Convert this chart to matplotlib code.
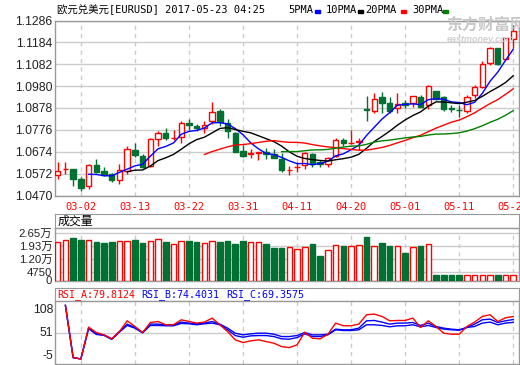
import matplotlib
matplotlib.use("Agg")
import matplotlib.pyplot as plt
from matplotlib.patches import Rectangle
import numpy as np
import pandas as pd

W, H = 520, 365

# daily candles
opens = [1.0564, 1.0592, 1.0592, 1.0546, 1.0513, 1.0611, 1.0584, 1.0570, 1.0544, 1.0583,
         1.0682, 1.0654, 1.0608, 1.0732, 1.0761, 1.0736, 1.0741, 1.0807, 1.0795, 1.0786,
         1.0816, 1.0865, 1.0807, 1.0760, 1.0676, 1.0662, 1.0669, 1.0671, 1.0662, 1.0642,
         1.0588, 1.0601, 1.0611, 1.0664, 1.0628, 1.0617, 1.0654, 1.0729, 1.0713, 1.0719,
         1.0874, 1.0865, 1.0929, 1.0900, 1.0877, 1.0900, 1.0900, 1.0928, 1.0892, 1.0957,
         1.0928, 1.0878, 1.0871, 1.0865, 1.0939, 1.0977, 1.1086, 1.1159, 1.1105, 1.1198]
highs = [1.0628, 1.0628, 1.0594, 1.0558, 1.0615, 1.0640, 1.0604, 1.0575, 1.0617, 1.0701,
         1.0715, 1.0664, 1.0737, 1.0771, 1.0786, 1.0774, 1.0817, 1.0825, 1.0803, 1.0817,
         1.0907, 1.0872, 1.0825, 1.0768, 1.0705, 1.0685, 1.0674, 1.0693, 1.0687, 1.0670,
         1.0609, 1.0628, 1.0674, 1.0670, 1.0636, 1.0651, 1.0740, 1.0740, 1.0775, 1.0737,
         1.0934, 1.0949, 1.0954, 1.0931, 1.0947, 1.0915, 1.0934, 1.0939, 1.0985, 1.0957,
         1.0934, 1.0892, 1.0892, 1.0939, 1.0985, 1.1097, 1.1164, 1.1159, 1.1203, 1.1265]
lows = [1.0548, 1.0572, 1.0516, 1.0492, 1.0502, 1.0575, 1.0560, 1.0533, 1.0525, 1.0572,
        1.0651, 1.0600, 1.0604, 1.0702, 1.0729, 1.0729, 1.0716, 1.0775, 1.0771, 1.0760,
        1.0803, 1.0794, 1.0740, 1.0671, 1.0651, 1.0643, 1.0636, 1.0639, 1.0643, 1.0581,
        1.0566, 1.0581, 1.0592, 1.0604, 1.0604, 1.0604, 1.0648, 1.0702, 1.0709, 1.0682,
        1.0819, 1.0853, 1.0856, 1.0853, 1.0856, 1.0880, 1.0881, 1.0881, 1.0872, 1.0915,
        1.0865, 1.0861, 1.0837, 1.0856, 1.0923, 1.0973, 1.1079, 1.1079, 1.1102, 1.1156]
closes = [1.0586, 1.0595, 1.0548, 1.0506, 1.0611, 1.0580, 1.0567, 1.0544, 1.0588, 1.0685,
          1.0657, 1.0604, 1.0733, 1.0760, 1.0740, 1.0738, 1.0807, 1.0799, 1.0783, 1.0797,
          1.0859, 1.0811, 1.0769, 1.0674, 1.0654, 1.0670, 1.0671, 1.0662, 1.0646, 1.0589,
          1.0590, 1.0605, 1.0667, 1.0617, 1.0617, 1.0645, 1.0729, 1.0713, 1.0714, 1.0722,
          1.0871, 1.0921, 1.0903, 1.0865, 1.0895, 1.0890, 1.0934, 1.0884, 1.0981, 1.0920,
          1.0872, 1.0875, 1.0869, 1.0931, 1.0975, 1.1082, 1.1156, 1.1083, 1.1203, 1.1237]
volumes = [21100, 22400, 23700, 22400, 22400, 21290, 20730, 21290, 21850, 21850,
           22590, 20730, 21850, 22970, 21290, 20170, 21850, 22030, 21290, 20730,
           21850, 21290, 21850, 20170, 22030, 21290, 21290, 20170, 18110, 18110,
           18670, 17370, 18480, 20170, 13440, 16810, 19610, 19050, 19240, 19610,
           24270, 19240, 20910, 19240, 19050, 15310, 18480, 19240, 20170, 2800,
           2800, 2800, 2800, 2800, 2800, 2800, 2800, 2800, 2800, 2800]
nan = np.nan
rsi_a = [nan, 99.6, 6.4, 4.0, 60.8, 51.2, 47.0, 39.9, 53.0, 72.1,
         62.0, 51.2, 69.1, 70.9, 65.0, 65.0, 73.9, 70.9, 68.0, 69.8,
         76.9, 65.0, 53.0, 38.1, 33.3, 36.3, 38.1, 35.1, 32.1, 26.1,
         24.3, 29.1, 51.8, 41.0, 39.9, 48.2, 68.0, 63.2, 63.2, 66.2,
         82.9, 84.1, 79.9, 72.1, 72.7, 72.7, 76.9, 60.2, 72.1, 62.0,
         50.0, 48.2, 48.2, 62.0, 69.8, 79.9, 82.9, 70.9, 77.5, 79.8124]
rsi_b = [nan, 99.6, 6.4, 4.0, 59.0, 48.8, 47.0, 39.9, 53.0, 66.2,
         60.2, 51.2, 66.2, 66.2, 65.0, 65.0, 69.8, 68.0, 66.8, 68.0,
         70.9, 66.2, 59.0, 50.0, 47.0, 48.8, 50.0, 50.0, 48.2, 44.0,
         44.0, 45.8, 51.2, 47.0, 47.0, 48.2, 57.2, 56.0, 56.0, 59.0,
         72.1, 72.7, 69.8, 66.2, 68.0, 68.0, 69.1, 63.8, 68.0, 62.0,
         59.0, 57.2, 56.0, 60.2, 66.2, 73.9, 75.1, 69.1, 72.1, 74.4031]
rsi_c = [nan, 99.6, 6.4, 4.0, 58.0, 47.8, 46.0, 38.9, 52.0, 63.8,
         59.0, 50.5, 63.8, 63.8, 63.2, 63.2, 67.4, 66.8, 65.0, 66.8,
         68.0, 65.0, 56.0, 45.8, 42.8, 45.2, 45.8, 45.8, 44.0, 39.9,
         39.3, 42.2, 48.8, 44.0, 44.0, 47.0, 56.0, 54.8, 54.8, 56.0,
         65.0, 65.0, 63.8, 61.4, 63.2, 63.2, 65.0, 61.4, 63.8, 60.2,
         57.2, 56.0, 55.4, 60.2, 62.0, 68.0, 69.8, 65.0, 68.0, 69.3575]

date_labels = ["03-02", "03-13", "03-22", "03-31", "04-11", "04-20", "05-01", "05-11", "05-22"]
date_pos = [3, 10, 17, 24, 31, 38, 45, 52, 59]
price_ticks = [1.0470, 1.0572, 1.0674, 1.0776, 1.0878, 1.0980, 1.1082, 1.1184, 1.1286]
vol_ticks = [0, 4750, 12000, 19300, 26500]
vol_tick_labels = ["0", "4750", "1.20万", "1.93万", "2.65万"]
rsi_ticks = [108, 51, -5]
ma_periods = [5, 10, 20, 30]
ma_colors = ["#0000ff", "#000000", "#ff0000", "#008000"]

UP, DOWN = "#ff0000", "#007033"
GRID, FRAME = "#cccccc", "#999999"
MONO = ["DejaVu Sans Mono", "Noto Sans CJK SC"]

plt.rcParams["font.family"] = ["Liberation Sans", "Noto Sans CJK SC"]


def fx(x):
    return x / W


def fy(y):
    return 1 - y / H


def add_axes(top, bottom, left=55, right=519):
    return fig.add_axes([fx(left), fy(bottom), fx(right) - fx(left), (bottom - top) / H])


def style(ax, size=8.8):
    for s in ax.spines.values():
        s.set_color(FRAME)
        s.set_linewidth(1)
    ax.tick_params(length=0, labelsize=size, colors="#222222", pad=2)
    ax.set_xlim(-0.35, 59.75)


o, h, l, c = map(np.asarray, (opens, highs, lows, closes))
x = np.arange(len(c))
up = c >= o
edge = np.where(up, UP, DOWN)
face = np.where(up, "white", DOWN)

fig = plt.figure(figsize=(W / 100, H / 100), dpi=100)

# price panel
ax = add_axes(20.5, 195.5)
style(ax)
ax.set_ylim(1.0470, 1.1286)
ax.set_yticks(price_ticks, [f"{t:.4f}" for t in price_ticks])
ax.set_xticks(date_pos, date_labels, color="red", fontsize=7.5, family=MONO)
ax.tick_params(axis="x", pad=5)
ax.grid(axis="y", color=GRID, lw=1)
ax.grid(axis="x", color=GRID, lw=1, ls=(0, (3, 3)))
ax.vlines(x, l, h, colors=edge, lw=1, zorder=2)
ax.bar(x, np.abs(c - o), bottom=np.minimum(o, c), width=0.7,
       color=face, edgecolor=edge, lw=1, zorder=3)
for n, col in zip(ma_periods, ma_colors):
    ax.plot(x, pd.Series(c).rolling(n).mean(), color=col, lw=1, zorder=4)

# watermark
fig.text(fx(446), fy(25), "东方财富网", fontsize=11.5, weight="bold", color="#c8c8c8",
         family="Noto Sans CJK SC", va="center")
fig.text(fx(447), fy(39), "eastmoney.com", fontsize=6.5, color="#cfcfcf", style="italic",
         weight="bold", va="center")

# volume panel
axh = add_axes(213.5, 228.3)
axh.set_xticks([])
axh.set_yticks([])
for s in axh.spines.values():
    s.set_color(FRAME)
axh.text(0.005, 0.45, "成交量", transform=axh.transAxes, fontsize=8.6,
         family="Noto Sans CJK SC", va="center", ha="left")

axv = add_axes(228.3, 280.5)
style(axv, size=8.2)
axv.set_ylim(0, 28940)
axv.set_yticks(vol_ticks, vol_tick_labels)
axv.set_xticks([])
for t in vol_ticks[1:]:
    axv.axhline(t, color=GRID, lw=1, zorder=0)
axv.vlines(date_pos, 0, vol_ticks[-1], colors=GRID, lw=1, ls=(0, (3, 3)), zorder=0)
axv.bar(x, volumes, width=0.72, color=face, edgecolor=edge, lw=1, zorder=3)

# RSI panel
axr_h = add_axes(287.7, 300.7)
axr_h.set_xticks([])
axr_h.set_yticks([])
for s in axr_h.spines.values():
    s.set_color(FRAME)
for px, txt, col in [(57, f"RSI_A:{rsi_a[-1]:.4f}", "red"),
                     (141, f"RSI_B:{rsi_b[-1]:.4f}", "blue"),
                     (226, f"RSI_C:{rsi_c[-1]:.4f}", "blue")]:
    fig.text(fx(px), fy(294.5), txt, color=col, fontsize=7.2, family=MONO, va="center")

axr = add_axes(300.7, 364)
style(axr)
axr.set_ylim(-5, 108)
axr.set_yticks([])
axr.set_xticks([])
axr.axhline(51, color=GRID, lw=1, zorder=0)
axr.vlines(date_pos, -5, 108, colors=GRID, lw=1, ls=(0, (3, 3)), zorder=0)
for val, va, dy in [(108, "top", -3), (51, "center", 0), (-5, "bottom", 2)]:
    axr.annotate(str(val), xy=(0, val), xycoords=("axes fraction", "data"),
                 xytext=(-2, dy), textcoords="offset pixels", ha="right", va=va,
                 fontsize=8.8, color="#222222", annotation_clip=False)
axr.plot(x, rsi_c, color="blue", lw=1)
axr.plot(x, rsi_b, color="blue", lw=1)
axr.plot(x, rsi_a, color="red", lw=1)

# title and MA legend
fig.text(fx(57), fy(10), "欧元兑美元[EURUSD] 2017-05-23 04:25", fontsize=7.5, family=MONO, va="center")
for tx, label, rx, col in [(288, "5PMA", 315, ma_colors[0]), (326, "10PMA", 358, ma_colors[1]),
                           (365, "20PMA", 401, ma_colors[2]), (412, "30PMA", 443, ma_colors[3])]:
    fig.text(fx(tx), fy(10), label, fontsize=7.5, family=MONO, va="center")
    fig.patches.append(Rectangle((fx(rx), fy(12.7)), 5 / W, 3 / H, transform=fig.transFigure,
                                 color=col, figure=fig))

fig.savefig("out.png", dpi=100)
